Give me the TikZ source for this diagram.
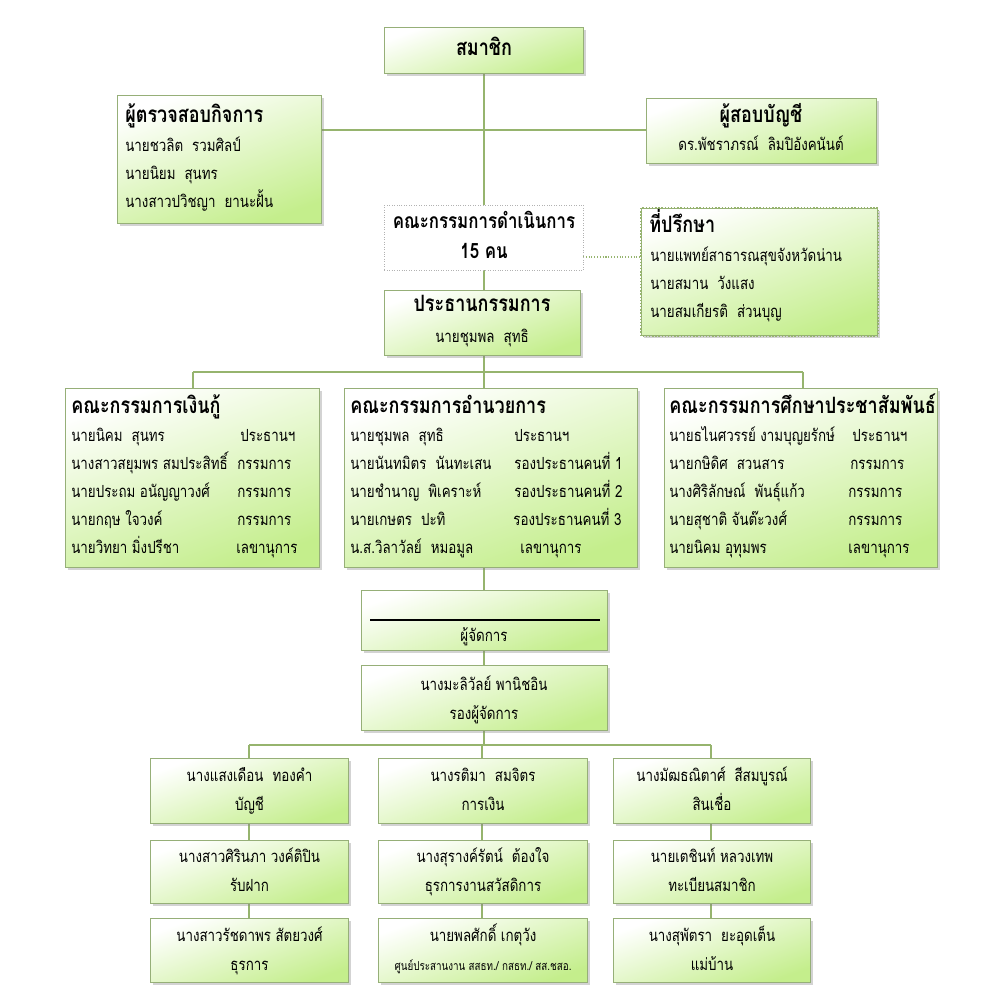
\documentclass[tikz,border=0pt]{standalone}
\usepackage{fontspec}
\setmainfont[Script=Thai,FakeStretch=0.8]{Loma}
\usetikzlibrary{positioning,shadows}
\definecolor{boxgreen}{RGB}{196,238,140}
\definecolor{boxline}{RGB}{150,175,120}
\definecolor{linkgreen}{RGB}{150,180,110}
\tikzset{
  gbox/.style={draw=boxline, line width=0.6pt, top color=white, bottom color=boxgreen,
    shading angle=20, drop shadow={shadow xshift=1.2pt,shadow yshift=-1.2pt,opacity=0.35},
    inner sep=0pt},
  dotbox/.style={draw=gray!60, densely dotted, fill=white, inner sep=0pt},
  link/.style={draw=linkgreen, line width=0.6pt},
  txt/.style={font=\fontsize{9.5}{12}\selectfont, inner sep=0pt, text height=1.5ex, text depth=0.3ex},
  ttl/.style={font=\fontsize{12.8}{15}\selectfont\bfseries, inner sep=0pt, text height=1.5ex, text depth=0.3ex}
}
\newcommand{\boxat}[6]{% name, style, x1, y1, x2, y2
  \node[#2, anchor=north west, minimum width={(#5-#3)*0.02cm}, minimum height={(#6-#4)*0.02cm}]
    (#1) at (#3,#4) {};}
\begin{document}
\begin{tikzpicture}[x=0.02cm,y=-0.02cm]
\useasboundingbox (0,0) rectangle (1000,1000);

% connectors behind the boxes
\draw[link] (484,73) -- (484,290);
\draw[link] (321,130) -- (646,130);
\draw[link, densely dotted, line width=0.9pt] (583,257) -- (641,257);
\draw[link] (484,355) -- (484,388);
\draw[link] (193,372) -- (803,372);
\draw[link] (193,372) -- (193,388);
\draw[link] (803,372) -- (803,388);
\draw[link] (484,567) -- (484,590);
\draw[link] (484,650) -- (484,665);
\draw[link] (484,730) -- (484,745);
\draw[link] (249,745) -- (711,745);
\foreach \cx in {249,482,711} {
  \draw[link] (\cx,745) -- (\cx,982);
}

% top level
\boxat{member}{gbox}{384}{27}{583}{73}
\node[ttl] at (member.center) {สมาชิก};

\boxat{inspect}{gbox}{117}{95}{321}{223}
\node[ttl, anchor=west] at (125,117) {ผู้ตรวจสอบกิจการ};
\foreach \y/\t in {146/นายชวลิต\ \ รวมศิลป์, 174/นายนิยม\ \ สุนทร, 202/นางสาวปวิชญา\ \ ยานะฝั้น}
  \node[txt, anchor=west] at (125,\y) {\t};

\boxat{auditor}{gbox}{646}{98}{876}{163}
\node[ttl] at (761,117) {ผู้สอบบัญชี};
\node[txt] at (761,145) {ดร.พัชราภรณ์\ \ ลิมปิอังคนันต์};

\boxat{board}{dotbox}{384}{205}{583}{270}
\node[ttl, font=\fontsize{12}{14}\selectfont\bfseries] at (484,223) {คณะกรรมการดำเนินการ};
\node[ttl, font=\fontsize{12}{14}\selectfont\bfseries] at (484,253) {15 คน};

\boxat{advisor}{gbox}{641}{208}{877}{335}
\draw[draw=linkgreen, densely dotted, line width=0.8pt] (advisor.north west) rectangle (advisor.south east);
\node[ttl, anchor=west] at (649,227) {ที่ปรึกษา};
\foreach \y/\t in {256/นายแพทย์สาธารณสุขจังหวัดน่าน, 284/นายสมาน\ \ วังแสง, 312/นายสมเกียรติ\ \ ส่วนบุญ}
  \node[txt, anchor=west] at (650,\y) {\t};

\boxat{chair}{gbox}{384}{290}{580}{355}
\node[ttl] at (482,306) {ประธานกรรมการ};
\node[txt] at (482,337) {นายชุมพล\ \ สุทธิ};

% committees
\boxat{loan}{gbox}{65}{388}{319}{567}
\node[ttl, anchor=west] at (71,408) {คณะกรรมการเงินกู้};
\foreach \y/\a/\b/\r in {436/นายนิคม\ \ สุนทร/ประธานฯ/240, 464/นางสาวสยุมพร สมประสิทธิ์/กรรมการ/237,
    492/นายประถม อนัญญาวงศ์/กรรมการ/237, 520/นายกฤษ ใจวงค์/กรรมการ/237, 548/นายวิทยา มิ่งปรีชา/เลขานุการ/236} {
  \node[txt, anchor=west] at (71,\y) {\a};
  \node[txt, anchor=west] at (\r,\y) {\b};
}

\boxat{exec}{gbox}{344}{388}{637}{567}
\node[ttl, anchor=west] at (350,408) {คณะกรรมการอำนวยการ};
\foreach \y/\a/\b/\r in {436/นายชุมพล\ \ สุทธิ/ประธานฯ/514, 464/นายนันทมิตร\ \ นันทะเสน/รองประธานคนที่ 1/514,
    492/นายชำนาญ\ \ พิเคราะห์/รองประธานคนที่ 2/514, 520/นายเกษตร\ \ ปะทิ/รองประธานคนที่ 3/513,
    548/น.ส.วิลาวัลย์\ \ หมอมูล/เลขานุการ/520} {
  \node[txt, anchor=west] at (350,\y) {\a};
  \node[txt, anchor=west] at (\r,\y) {\b};
}

\boxat{edu}{gbox}{664}{388}{937}{567}
\node[ttl, anchor=west] at (669,408) {คณะกรรมการศึกษาประชาสัมพันธ์};
\foreach \y/\a/\b/\r in {436/นายธไนศวรรย์ งามบุญยรักษ์/ประธานฯ/852, 464/นายกษิดิศ\ \ สวนสาร/กรรมการ/850,
    492/นางศิริลักษณ์\ \ พันธุ์แก้ว/กรรมการ/848, 520/นายสุชาติ จันต๊ะวงศ์/กรรมการ/848, 548/นายนิคม อุทุมพร/เลขานุการ/848} {
  \node[txt, anchor=west] at (669,\y) {\a};
  \node[txt, anchor=west] at (\r,\y) {\b};
}

% manager
\boxat{manager}{gbox}{361}{590}{607}{650}
\draw[black, line width=0.8pt] (370,620) -- (600,620);
\node[txt] at (484,636) {ผู้จัดการ};

\boxat{deputy}{gbox}{361}{665}{607}{730}
\node[txt] at (484,685) {นางมะลิวัลย์ พานิชอิน};
\node[txt] at (484,714) {รองผู้จัดการ};

% staff
\boxat{acc}{gbox}{150}{758}{348}{823}
\boxat{fin}{gbox}{378}{758}{587}{823}
\boxat{credit}{gbox}{613}{758}{810}{823}
\boxat{deposit}{gbox}{150}{840}{348}{903}
\boxat{welfare}{gbox}{378}{840}{587}{903}
\boxat{register}{gbox}{613}{840}{810}{903}
\boxat{clerk}{gbox}{150}{918}{348}{982}
\boxat{center}{gbox}{378}{918}{587}{982}
\boxat{maid}{gbox}{613}{918}{810}{982}

\foreach \n/\a/\b in {acc/นางแสงเดือน\ \ ทองคำ/บัญชี,
    fin/นางรติมา\ \ สมจิตร/การเงิน,
    credit/นางมัฒธณิตาศ์\ \ สีสมบูรณ์/สินเชื่อ,
    deposit/นางสาวศิรินภา วงค์ติปิน/รับฝาก,
    welfare/นางสุรางค์รัตน์\ \ ต้องใจ/ธุรการงานสวัสดิการ,
    register/นายเตชินท์ หลวงเทพ/ทะเบียนสมาชิก,
    clerk/นางสาวรัชดาพร สัตยวงศ์/ธุรการ,
    maid/นางสุพัตรา\ \ ยะอุดเต็น/แม่บ้าน} {
  \node[txt] at ([yshift=0.3cm]\n.center) {\a};
  \node[txt] at ([yshift=-0.28cm]\n.center) {\b};
}
\node[txt] at ([yshift=0.3cm]center.center) {นายพลศักดิ์ เกตุวัง};
\node[txt, font=\fontsize{7}{9}\selectfont] at ([yshift=-0.28cm]center.center) {ศูนย์ประสานงาน สสธท./ กสธท./ สส.ชสอ.};
\end{tikzpicture}
\end{document}
